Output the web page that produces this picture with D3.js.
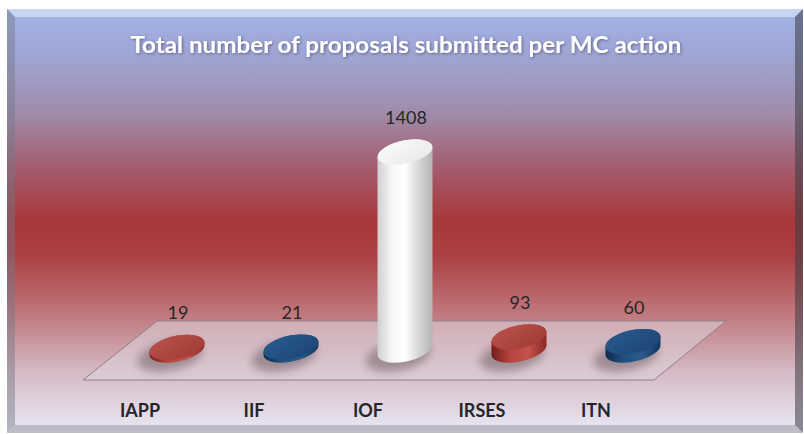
<!DOCTYPE html>
<html>
<head>
<meta charset="utf-8">
<script src="https://cdn.jsdelivr.net/npm/d3@7"></script>
<style>
  body { margin: 0; background: #fff; }
  text { font-family: Lato, "Open Sans", sans-serif; }
</style>
</head>
<body>
<svg id="chart" width="804" height="434"></svg>
<script>
// data
var categories = ["IAPP", "IIF", "IOF", "IRSES", "ITN"];
var proposals = [19, 21, 1408, 93, 60];
var title = "Total number of proposals submitted per MC action";

var svg = d3.select("#chart");
var defs = svg.append("defs");

// panel size
var panel = { x: 7, y: 9, w: 796, h: 424 },
  bev = 8;

// background gradient of the panel
var bg = defs.append("linearGradient").attr("id", "bg")
  .attr("x1", 0).attr("y1", 0).attr("x2", 0).attr("y2", 1);
[[0, "#a2b3e6"], [0.12, "#9ea4d2"], [0.25, "#a08aa8"], [0.38, "#a45a6a"],
 [0.5, "#a8383a"], [0.58, "#ab3f42"], [0.72, "#c0787e"], [0.86, "#d6bcc6"], [1, "#e9e9f7"]]
  .forEach(function (s) { bg.append("stop").attr("offset", s[0]).attr("stop-color", s[1]); });

var blur = defs.append("filter").attr("id", "blur")
  .attr("x", "-50%").attr("y", "-50%").attr("width", "200%").attr("height", "200%");
blur.append("feGaussianBlur").attr("stdDeviation", 4);

var tshadow = defs.append("filter").attr("id", "tshadow")
  .attr("x", "-10%").attr("y", "-50%").attr("width", "120%").attr("height", "200%");
tshadow.append("feDropShadow").attr("dx", 1).attr("dy", 1).attr("stdDeviation", 1.5)
  .attr("flood-color", "#3a3050").attr("flood-opacity", 0.6);

svg.append("rect")
  .attr("x", panel.x).attr("y", panel.y).attr("width", panel.w).attr("height", panel.h)
  .attr("fill", "url(#bg)");

// bevel edges
var x0 = panel.x, y0 = panel.y, x1 = panel.x + panel.w, y1 = panel.y + panel.h;
var edges = [
  { pts: [[x0, y0], [x1, y0], [x1 - bev, y0 + bev], [x0 + bev, y0 + bev]], fill: "#e8f0ff", op: 0.55 },
  { pts: [[x0, y0], [x0 + bev, y0 + bev], [x0 + bev, y1 - bev], [x0, y1]], fill: "#707888", op: 0.45 },
  { pts: [[x1, y0], [x1, y1], [x1 - bev, y1 - bev], [x1 - bev, y0 + bev]], fill: "#3c3c44", op: 0.55 },
  { pts: [[x0, y1], [x0 + bev, y1 - bev], [x1 - bev, y1 - bev], [x1, y1]], fill: "#8a8a9a", op: 0.45 }
];
svg.append("g").selectAll("polygon").data(edges).enter().append("polygon")
  .attr("points", function (d) { return d.pts.join(" "); })
  .attr("fill", function (d) { return d.fill; })
  .attr("opacity", function (d) { return d.op; });

// title
svg.append("text")
  .attr("x", 406).attr("y", 53)
  .attr("text-anchor", "middle")
  .attr("textLength", 551).attr("lengthAdjust", "spacingAndGlyphs")
  .attr("font-size", 22).attr("font-weight", "bold")
  .attr("fill", "#ffffff")
  .attr("filter", "url(#tshadow)")
  .text(title);

// floor
var floor = [[157, 321], [726, 321], [654, 380], [83, 380]];
svg.append("polygon")
  .attr("points", floor.join(" "))
  .attr("fill", "#dcd4dc").attr("fill-opacity", 0.55)
  .attr("stroke", "#8c8088").attr("stroke-width", 1);

// scales
var x = d3.scalePoint().domain(categories).range([177, 633]);
var h = d3.scaleLinear().domain([0, 1408]).range([0, 198]);
var base = 350, rx = 28, ry = 11.5, rot = -12;

var palettes = {
  red: { body: ["#741d1a", "#b3443e", "#c4524b", "#8a2823"], top: ["#b9524b", "#a03a34"] },
  blue: { body: ["#0e2a4c", "#22507f", "#2b5b8c", "#12345c"], top: ["#2a5a8e", "#1b4575"] },
  white: { body: ["#cfcfcf", "#f6f6f6", "#ffffff", "#d6d6d6", "#b4b4b4"], top: ["#fbfbfb", "#e8e8e8"] }
};
var color = d3.scaleOrdinal().domain(categories).range(["red", "blue", "white"]);

Object.keys(palettes).forEach(function (k) {
  var g = defs.append("linearGradient").attr("id", "body-" + k)
    .attr("x1", 0).attr("y1", 0).attr("x2", 1).attr("y2", 0);
  var st = palettes[k].body;
  st.forEach(function (c, i) {
    g.append("stop").attr("offset", i / (st.length - 1)).attr("stop-color", c);
  });
  var t = defs.append("linearGradient").attr("id", "top-" + k)
    .attr("x1", 0).attr("y1", 0).attr("x2", 1).attr("y2", 1);
  t.append("stop").attr("offset", 0).attr("stop-color", palettes[k].top[0]);
  t.append("stop").attr("offset", 1).attr("stop-color", palettes[k].top[1]);
});

// horizontal extreme points of the rotated ellipse
function sides(cx, cy) {
  var th = rot * Math.PI / 180;
  var t = Math.atan2(-ry * Math.sin(th), rx * Math.cos(th));
  var px = rx * Math.cos(t) * Math.cos(th) - ry * Math.sin(t) * Math.sin(th);
  var py = rx * Math.cos(t) * Math.sin(th) + ry * Math.sin(t) * Math.cos(th);
  if (px < 0) { px = -px; py = -py; }
  return [[cx - px, cy - py], [cx + px, cy + py]];
}

function bodyPath(d) {
  var cx = x(d.cat), top = base - h(d.val);
  var b = sides(cx, base), t = sides(cx, top);
  var a = " A" + rx + "," + ry + " " + rot + " 0 0 ";
  return "M" + b[0] + a + b[1] + "L" + t[1] + a + t[0] + "Z";
}

var data = categories.map(function (c, i) { return { cat: c, val: proposals[i] }; });

// shadows
svg.append("g").selectAll("ellipse").data(data).enter().append("ellipse")
  .attr("cx", function (d) { return x(d.cat) - 7; })
  .attr("cy", base + 6)
  .attr("rx", rx + 5).attr("ry", ry + 3)
  .attr("transform", function (d) { return "rotate(" + rot + "," + (x(d.cat) - 7) + "," + (base + 6) + ")"; })
  .attr("fill", "#5a4850").attr("opacity", 0.45)
  .attr("filter", "url(#blur)");

// bars
var bars = svg.append("g").selectAll("g").data(data).enter().append("g");
bars.append("path")
  .attr("d", bodyPath)
  .attr("fill", function (d) { return "url(#body-" + color(d.cat) + ")"; });
bars.append("ellipse")
  .attr("cx", function (d) { return x(d.cat); })
  .attr("cy", function (d) { return base - h(d.val); })
  .attr("rx", rx).attr("ry", ry)
  .attr("transform", function (d) { return "rotate(" + rot + "," + x(d.cat) + "," + (base - h(d.val)) + ")"; })
  .attr("fill", function (d) { return "url(#top-" + color(d.cat) + ")"; });

// value labels
svg.append("g").selectAll("text").data(data).enter().append("text")
  .attr("x", function (d) { return x(d.cat) + 1; })
  .attr("y", function (d) { return base - h(d.val) - 28; })
  .attr("text-anchor", "middle")
  .attr("font-size", 18)
  .attr("fill", "#262626")
  .text(function (d) { return d.val; });

// category labels
svg.append("g").selectAll("text").data(categories).enter().append("text")
  .attr("x", function (d) { return x(d) - 37; })
  .attr("y", 417)
  .attr("text-anchor", "middle")
  .attr("font-size", 18).attr("font-weight", "bold")
  .attr("fill", "#262626")
  .text(function (d) { return d; });
</script>
</body>
</html>
